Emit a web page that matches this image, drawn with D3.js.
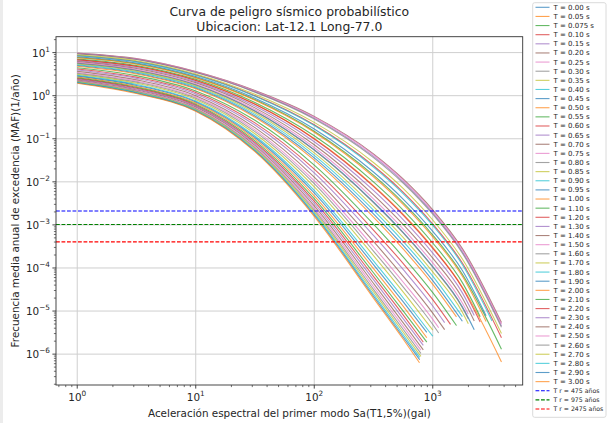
<!DOCTYPE html>
<html><head><meta charset="utf-8">
<script src="https://cdn.jsdelivr.net/npm/d3@7"></script>
<style>
html,body{margin:0;padding:0;background:#fff;}
svg{display:block;font-family:'DejaVu Sans',sans-serif;}
</style>
</head><body>
<svg id="chart" width="607" height="423"></svg>
<script>
// ---- data ----
const titleLines = ["Curva de peligro sísmico probabilístico", "Ubicacion: Lat-12.1 Long-77.0"];
const xLabel = "Aceleración espectral del primer modo Sa(T1,5%)(gal)";
const yLabel = "Frecuencia media anual de excedencia (MAF)(1/año)";

const periods = ["0.00","0.05","0.075","0.10","0.15","0.20","0.25","0.30","0.35","0.40",
  "0.45","0.50","0.55","0.60","0.65","0.70","0.75","0.80","0.85","0.90","0.95","1.00",
  "1.10","1.20","1.30","1.40","1.50","1.60","1.70","1.80","1.90","2.00","2.10","2.20",
  "2.30","2.40","2.50","2.60","2.70","2.80","2.90","3.00"];

// Sa (gal) sample grid shared by the curves
const saGrid = [1, 3.16, 10, 31.6, 100, 316, 562, 1000, 1778];

// MAF (1/año) read along saGrid for each period
const mafCurves = [
  [5.70, 3.88, 1.79, 0.443, 0.0556, 3.40e-3, 6.73e-4, 1.07e-4, 1.25e-5],
  [6.85, 4.81, 2.28, 0.643, 0.102, 8.18e-3, 1.79e-3, 3.03e-4, 3.62e-5],
  [7.69, 5.50, 2.65, 0.813, 0.150, 1.43e-2, 3.30e-3, 5.82e-4, 7.10e-5],
  [8.55, 6.21, 3.05, 1.00, 0.212, 2.36e-2, 5.77e-3, 1.05e-3, 1.30e-4],
  [9.48, 7.00, 3.49, 1.24, 0.301, 3.89e-2, 1.01e-2, 1.90e-3, 2.38e-4],
  [9.77, 7.24, 3.63, 1.32, 0.331, 4.47e-2, 1.17e-2, 2.24e-3, 2.82e-4],
  [9.66, 7.14, 3.58, 1.29, 0.319, 4.24e-2, 1.11e-2, 2.10e-3, 2.64e-4],
  [9.38, 6.90, 3.44, 1.21, 0.288, 3.66e-2, 9.40e-3, 1.77e-3, 2.21e-4],
  [8.87, 6.47, 3.20, 1.08, 0.240, 2.81e-2, 7.03e-3, 1.30e-3, 1.61e-4],
  [8.43, 6.10, 2.99, 0.975, 0.203, 2.20e-2, 5.35e-3, 9.70e-4, 1.19e-4],
  [7.98, 5.73, 2.78, 0.873, 0.169, 1.69e-2, 3.99e-3, 7.11e-4, 8.71e-5],
  [7.57, 5.38, 2.59, 0.783, 0.142, 1.31e-2, 3.01e-3, 5.27e-4, 6.40e-5],
  [7.13, 5.04, 2.40, 0.697, 0.117, 9.93e-3, 2.21e-3, 3.80e-4, 4.57e-5],
  [6.79, 4.75, 2.25, 0.630, 0.0991, 7.82e-3, 1.69e-3, 2.86e-4, 3.43e-5],
  [6.49, 4.51, 2.12, 0.574, 0.0853, 6.30e-3, 1.33e-3, 2.22e-4, 2.64e-5],
  [6.18, 4.27, 1.99, 0.521, 0.0726, 5.00e-3, 1.03e-3, 1.69e-4, 2.00e-5],
  [5.92, 4.05, 1.87, 0.475, 0.0625, 4.03e-3, 8.11e-4, 1.31e-4, 1.53e-5],
  [5.66, 3.85, 1.77, 0.437, 0.0545, 3.30e-3, 6.50e-4, 1.04e-4, 1.20e-5],
  [5.42, 3.66, 1.67, 0.400, 0.0471, 2.67e-3, 5.15e-4, 8.09e-5, 9.4e-6],
  [5.21, 3.50, 1.59, 0.368, 0.0412, 2.20e-3, 4.16e-4, 6.44e-5],
  [5.00, 3.33, 1.50, 0.338, 0.0359, 1.80e-3, 3.33e-4, 5.09e-5],
  [4.82, 3.20, 1.44, 0.315, 0.0319, 1.52e-3, 2.76e-4, 4.17e-5],
  [4.46, 2.92, 1.29, 0.268, 0.0245, 1.04e-3, 1.81e-4, 2.67e-5],
  [4.17, 2.70, 1.19, 0.234, 0.0197, 7.60e-4, 1.28e-4, 1.84e-5],
  [3.93, 2.52, 1.10, 0.208, 0.0162, 5.71e-4, 9.29e-5, 1.31e-5],
  [3.67, 2.33, 1.00, 0.181, 0.0129, 4.14e-4, 6.49e-5, 8.95e-6],
  [3.46, 2.18, 0.929, 0.161, 0.0106, 3.11e-4, 4.72e-5, 6.40e-6],
  [3.30, 2.06, 0.871, 0.146, 9.04e-3, 2.47e-4, 3.66e-5, 4.88e-6],
  [3.13, 1.94, 0.813, 0.131, 7.62e-3, 1.93e-4, 2.78e-5],
  [2.96, 1.82, 0.754, 0.116, 6.30e-3, 1.46e-4, 2.04e-5],
  [2.84, 1.73, 0.715, 0.107, 5.51e-3, 1.20e-4, 1.65e-5],
  [2.71, 1.64, 0.675, 0.0981, 4.74e-3, 9.70e-5, 1.30e-5],
  [2.59, 1.56, 0.634, 0.0891, 4.06e-3, 7.76e-5, 1.01e-5],
  [2.49, 1.49, 0.601, 0.0820, 3.55e-3, 6.40e-5, 8.17e-6],
  [2.40, 1.43, 0.573, 0.0762, 3.14e-3, 5.36e-5, 6.70e-6],
  [2.30, 1.36, 0.543, 0.0702, 2.75e-3, 4.42e-5, 5.41e-6],
  [2.22, 1.31, 0.519, 0.0653, 2.44e-3, 3.72e-5, 4.48e-6],
  [2.15, 1.26, 0.497, 0.0612, 2.20e-3, 3.19e-5, 3.78e-6],
  [2.09, 1.22, 0.479, 0.0578, 2.00e-3, 2.80e-5, 3.27e-6],
  [2.04, 1.18, 0.462, 0.0547, 1.83e-3, 2.45e-5, 2.82e-6],
  [1.99, 1.15, 0.449, 0.0522, 1.70e-3, 2.21e-5, 2.50e-6],
  [1.95, 1.12, 0.437, 0.0501, 1.58e-3, 2.00e-5, 2.24e-6]
];

// last point of each curve (Sa in gal, MAF)
const saEnd = [2239, 3800, 3800, 3800, 3800, 3800, 3800, 3800, 3800, 3162,
  2818, 2818, 2512, 2512, 2239, 2239, 1995, 1995, 1995, 1778, 1778, 1585,
  1585, 1413, 1259, 1259, 1122, 1122, 1000, 1000, 891, 891, 891, 832,
  832, 832, 794, 794, 794, 776, 776, 773];
const mafEnd = [3.7e-6, 6.6e-7, 1.3e-6, 2.4e-6, 4.5e-6, 5.4e-6, 5.0e-6, 4.2e-6, 3.0e-6, 5.9e-6,
  7.8e-6, 5.7e-6, 7.4e-6, 5.6e-6, 7.9e-6, 5.9e-6, 8.4e-6, 6.6e-6, 5.1e-6, 7.4e-6, 5.8e-6, 7.3e-6,
  4.6e-6, 4.9e-6, 5.4e-6, 3.7e-6, 4.1e-6, 3.1e-6, 3.6e-6, 2.6e-6, 3.2e-6, 2.4e-6, 1.9e-6, 1.9e-6,
  1.6e-6, 1.26e-6, 1.24e-6, 1.04e-6, 8.9e-7, 8.4e-7, 7.4e-7, 6.3e-7];

const returnPeriods = [475, 975, 2475];
const returnColors = ["#0000ff", "#008000", "#ff0000"];

const xTickValues = [1, 10, 100, 1000];
const yTickValues = [1e1, 1e0, 1e-1, 1e-2, 1e-3, 1e-4, 1e-5, 1e-6];

const palette = ["#1f77b4","#ff7f0e","#2ca02c","#d62728","#9467bd","#8c564b","#e377c2","#7f7f7f","#bcbd22","#17becf"];

// ---- layout ----
const W = 607, H = 423;
const plot = {left: 56, right: 522.7, top: 36.7, bottom: 385};
const svg = d3.select("#chart");

svg.append("rect").attr("x", 0).attr("y", 0).attr("width", W).attr("height", H).attr("fill", "#fff");
svg.append("rect").attr("x", 0).attr("y", 0).attr("width", 3).attr("height", H).attr("fill", "#ececec");

const x = d3.scaleLog().domain([0.662, 5740]).range([plot.left, plot.right]);
const y = d3.scaleLog().domain([1.92e-7, 23.4]).range([plot.bottom, plot.top]);

const g = svg.append("g");

// grid
g.selectAll("line.gx").data(xTickValues).join("line")
  .attr("x1", d => x(d)).attr("x2", d => x(d))
  .attr("y1", plot.top).attr("y2", plot.bottom)
  .attr("stroke", "#cfcfcf").attr("stroke-width", 1);
g.selectAll("line.gy").data(yTickValues).join("line")
  .attr("x1", plot.left).attr("x2", plot.right)
  .attr("y1", d => y(d)).attr("y2", d => y(d))
  .attr("stroke", "#cfcfcf").attr("stroke-width", 1);

// clip
svg.append("defs").append("clipPath").attr("id", "clip").append("rect")
  .attr("x", plot.left).attr("y", plot.top)
  .attr("width", plot.right - plot.left).attr("height", plot.bottom - plot.top);

const line = d3.line().x(d => x(d[0])).y(d => y(d[1])).curve(d3.curveMonotoneX);
const curvesG = svg.append("g").attr("clip-path", "url(#clip)");

periods.forEach((p, i) => {
  const pts = mafCurves[i].map((v, j) => [saGrid[j], v]);
  pts.push([saEnd[i], mafEnd[i]]);
  curvesG.append("path").datum(pts)
    .attr("d", line)
    .attr("fill", "none")
    .attr("stroke", palette[i % 10])
    .attr("stroke-opacity", 0.72)
    .attr("stroke-width", 1.1);
});

returnPeriods.forEach((tr, k) => {
  curvesG.append("line")
    .attr("x1", plot.left).attr("x2", plot.right)
    .attr("y1", y(1 / tr)).attr("y2", y(1 / tr))
    .attr("stroke", returnColors[k]).attr("stroke-width", 1.1)
    .attr("stroke-dasharray", "3.8,1.7");
});

// frame
svg.append("rect").attr("x", plot.left).attr("y", plot.top)
  .attr("width", plot.right - plot.left).attr("height", plot.bottom - plot.top)
  .attr("fill", "none").attr("stroke", "#333").attr("stroke-width", 0.9);

// axes ticks
const xMinor = [], yMinor = [];
for (let e = -1; e <= 3; e++) for (let m = 2; m <= 9; m++) {
  const v = m * Math.pow(10, e);
  if (v > x.domain()[0] && v < x.domain()[1]) xMinor.push(v);
}
for (let e = -7; e <= 1; e++) for (let m = 2; m <= 9; m++) {
  const v = m * Math.pow(10, e);
  if (v > y.domain()[0] && v < y.domain()[1]) yMinor.push(v);
}
svg.selectAll("line.xmaj").data(xTickValues).join("line")
  .attr("x1", d => x(d)).attr("x2", d => x(d))
  .attr("y1", plot.bottom).attr("y2", plot.bottom + 3.6)
  .attr("stroke", "#333").attr("stroke-width", 0.9);
svg.selectAll("line.xmin").data(xMinor).join("line")
  .attr("x1", d => x(d)).attr("x2", d => x(d))
  .attr("y1", plot.bottom).attr("y2", plot.bottom + 2.1)
  .attr("stroke", "#333").attr("stroke-width", 0.7);
svg.selectAll("line.ymaj").data(yTickValues).join("line")
  .attr("y1", d => y(d)).attr("y2", d => y(d))
  .attr("x1", plot.left - 3.6).attr("x2", plot.left)
  .attr("stroke", "#333").attr("stroke-width", 0.9);
svg.selectAll("line.ymin").data(yMinor).join("line")
  .attr("y1", d => y(d)).attr("y2", d => y(d))
  .attr("x1", plot.left - 2.1).attr("x2", plot.left)
  .attr("stroke", "#333").attr("stroke-width", 0.7);

function expText(v) {
  const e = Math.round(Math.log10(v));
  return e < 0 ? "\u2212" + Math.abs(e) : String(e);
}
const fs = 10.4;
xTickValues.forEach(v => {
  const t = svg.append("text").attr("x", x(v)).attr("y", 400.7)
    .attr("text-anchor", "middle").attr("font-size", fs).attr("fill", "#262626");
  t.append("tspan").text("10");
  t.append("tspan").attr("font-size", 7.3).attr("dy", -5).text(expText(v));
});
yTickValues.forEach(v => {
  const t = svg.append("text").attr("x", 50).attr("y", y(v) + 4)
    .attr("text-anchor", "end").attr("font-size", fs).attr("fill", "#262626");
  t.append("tspan").text("10");
  t.append("tspan").attr("font-size", 7.3).attr("dy", -5).text(expText(v));
});

// labels
const cx = (plot.left + plot.right) / 2;
svg.append("text").attr("x", cx).attr("y", 417).attr("text-anchor", "middle")
  .attr("font-size", fs).attr("fill", "#262626").text(xLabel);
svg.append("text").attr("transform", `translate(15,${(plot.top + plot.bottom) / 2}) rotate(-90)`)
  .attr("text-anchor", "middle").attr("dy", "0.36em")
  .attr("font-size", fs).attr("fill", "#262626").text(yLabel);
titleLines.forEach((t, k) => {
  svg.append("text").attr("x", cx).attr("y", 16.2 + k * 14.6).attr("text-anchor", "middle")
    .attr("font-size", 12.4).attr("fill", "#262626").text(t);
});

// legend
const legendLabels = periods.map(p => `T = ${p} s`).concat(returnPeriods.map(t => `T r = ${t} años`));
const lg = svg.append("g");
lg.append("rect").attr("x", 532.7).attr("y", 2.7).attr("width", 73.3).attr("height", 414.6)
  .attr("rx", 2).attr("fill", "#fff").attr("fill-opacity", 0.85)
  .attr("stroke", "#d6d6d6").attr("stroke-width", 0.9);
legendLabels.forEach((lab, i) => {
  const yy = 7.3 + i * 9.13;
  const isTr = i >= periods.length;
  const col = isTr ? returnColors[i - periods.length] : palette[i % 10];
  lg.append("line").attr("x1", 535.5).attr("x2", 549.5).attr("y1", yy).attr("y2", yy)
    .attr("stroke", col).attr("stroke-width", 1.1)
    .attr("stroke-opacity", isTr ? 1 : 0.72)
    .attr("stroke-dasharray", isTr ? "3.8,1.7" : null);
  lg.append("text").attr("x", 553.5).attr("y", yy).attr("dy", "0.35em")
    .attr("font-size", isTr ? 6.2 : 7.0).attr("fill", "#262626").text(lab);
});
</script>
</body></html>
